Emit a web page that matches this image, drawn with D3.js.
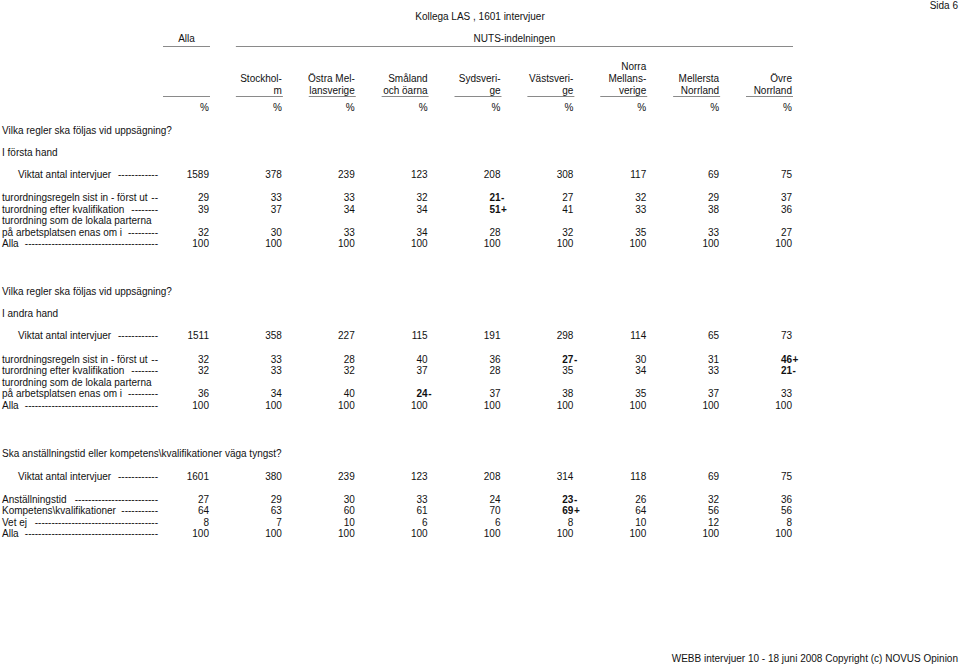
<!DOCTYPE html>
<html><head><meta charset="utf-8">
<script src="https://cdn.jsdelivr.net/npm/d3@7/dist/d3.min.js"></script>
<style>
html,body{margin:0;padding:0;background:#fff;}
svg text{font-family:"Liberation Sans",Arial,sans-serif;font-size:10px;fill:#111;}
</style></head>
<body>
<svg id="c" width="960" height="667"></svg>
<script>
// ---- data ----
const pageTitle = "Kollega LAS , 1601 intervjuer";
const pageNo = "Sida 6";
const footer = "WEBB intervjuer 10 - 18 juni 2008 Copyright (c) NOVUS Opinion";
const groupAll = "Alla";
const groupNuts = "NUTS-indelningen";
const columns = ["Alla","Stockholm","Östra Mellansverige","Småland och öarna","Sydsverige","Västsverige","Norra Mellansverige","Mellersta Norrland","Övre Norrland"];
const columnHeaders = [[""],["Stockhol-","m"],["Östra Mel-","lansverige"],["Småland","och öarna"],["Sydsveri-","ge"],["Västsveri-","ge"],["Norra","Mellans-","verige"],["Mellersta","Norrland"],["Övre","Norrland"]];
const unitLabel = "%";

const q1Title = "Vilka regler ska följas vid uppsägning?";
const q1Sub = "I första hand";
const q1Base = [1589,378,239,123,208,308,117,69,75];
const q1Sist = [29,33,33,32,"21-",27,32,29,37];
const q1Kval = [39,37,34,34,"51+",41,33,38,36];
const q1Lokal = [32,30,33,34,28,32,35,33,27];
const q1Alla = [100,100,100,100,100,100,100,100,100];

const q2Title = "Vilka regler ska följas vid uppsägning?";
const q2Sub = "I andra hand";
const q2Base = [1511,358,227,115,191,298,114,65,73];
const q2Sist = [32,33,28,40,36,"27-",30,31,"46+"];
const q2Kval = [32,33,32,37,28,35,34,33,"21-"];
const q2Lokal = [36,34,40,"24-",37,38,35,37,33];
const q2Alla = [100,100,100,100,100,100,100,100,100];

const q3Title = "Ska anställningstid eller kompetens\\kvalifikationer väga tyngst?";
const q3Base = [1601,380,239,123,208,314,118,69,75];
const q3Anst = [27,29,30,33,24,"23-",26,32,36];
const q3Komp = [64,63,60,61,70,"69+",64,56,56];
const q3VetEj = [8,7,10,6,6,8,10,12,8];
const q3Alla = [100,100,100,100,100,100,100,100,100];

const baseLabel = "Viktat antal intervjuer";
const lblSist = "turordningsregeln sist in - först ut";
const lblKval = "turordning efter kvalifikation";
const lblLokal1 = "turordning som de lokala parterna";
const lblLokal2 = "på arbetsplatsen enas om i";
const lblAlla = "Alla";
const lblAnst = "Anställningstid";
const lblKomp = "Kompetens\\kvalifikationer";
const lblVetEj = "Vet ej";

// ---- layout ----
const svg = d3.select("#c");
const x = d3.scaleLinear().domain([0, columns.length - 1]).range([209, 792]);
const colW = 46;
const dashEnd = 158;
const lineColor = "#8a8a8a";

function txt(s, px, py, anchor, weight) {
  return svg.append("text").attr("x", px).attr("y", py)
    .attr("dominant-baseline", "central")
    .attr("text-anchor", anchor || "start")
    .style("font-weight", weight || "normal").text(s);
}

// page texts
txt(pageTitle, 480, 16, "middle");
txt(pageNo, 958, 5, "end");
txt(footer, 958, 658, "end");

// group headers
txt(groupAll, (x(0) - colW + x(0)) / 2 + 0.5, 38, "middle");
svg.append("line").attr("x1", x(0) - colW).attr("x2", x(0) + 1).attr("y1", 46.5).attr("y2", 46.5).attr("stroke", lineColor);
txt(groupNuts, (x(1) - colW + x(8)) / 2 + 0.5, 38, "middle");
svg.append("line").attr("x1", x(1) - colW).attr("x2", x(8) + 1).attr("y1", 46.5).attr("y2", 46.5).attr("stroke", lineColor);

// column headers
columnHeaders.forEach((lines, i) => {
  const n = lines.length;
  lines.forEach((l, k) => {
    if (l) txt(l, x(i), 90 - (n - 1 - k) * 11.7, "end");
  });
  svg.append("line").attr("x1", x(i) - colW).attr("x2", x(i) + 1).attr("y1", 96.5).attr("y2", 96.5).attr("stroke", lineColor);
  txt(unitLabel, x(i), 107, "end");
});

function labelWithDashes(s, px, py) {
  const t = txt(s, px, py);
  const w = t.node().getComputedTextLength();
  const start = px + w + 5;
  const probe = txt("-", 0, -50);
  const dw = probe.node().getComputedTextLength();
  probe.remove();
  const n = Math.max(2, Math.floor((dashEnd - start) / dw));
  txt("-".repeat(n), dashEnd, py, "end");
}

function valueRow(vals, py) {
  vals.forEach((v, i) => {
    const s = String(v);
    const m = s.match(/^(\d+)([+-]?)$/);
    const num = m ? m[1] : s;
    const sig = m ? m[2] : "";
    txt(num, x(i), py, "end", sig ? "bold" : "normal");
    if (sig) txt(sig, x(i) + 0.5, py, "start", "bold");
  });
}

function row(label, vals, py, indent) {
  labelWithDashes(label, indent ? 18 : 2, py);
  valueRow(vals, py);
}

// section 1
txt(q1Title, 2, 130);
txt(q1Sub, 2, 152);
row(baseLabel, q1Base, 174, true);
row(lblSist, q1Sist, 197);
row(lblKval, q1Kval, 209);
txt(lblLokal1, 2, 220.5);
row(lblLokal2, q1Lokal, 232);
row(lblAlla, q1Alla, 243.5);

// section 2
txt(q2Title, 2, 291.5);
txt(q2Sub, 2, 313);
row(baseLabel, q2Base, 335.5, true);
row(lblSist, q2Sist, 359);
row(lblKval, q2Kval, 370.5);
txt(lblLokal1, 2, 382);
row(lblLokal2, q2Lokal, 393.5);
row(lblAlla, q2Alla, 405);

// section 3
txt(q3Title, 2, 453);
row(baseLabel, q3Base, 476, true);
row(lblAnst, q3Anst, 499);
row(lblKomp, q3Komp, 510.5);
row(lblVetEj, q3VetEj, 522);
row(lblAlla, q3Alla, 533);
</script>
</body></html>
